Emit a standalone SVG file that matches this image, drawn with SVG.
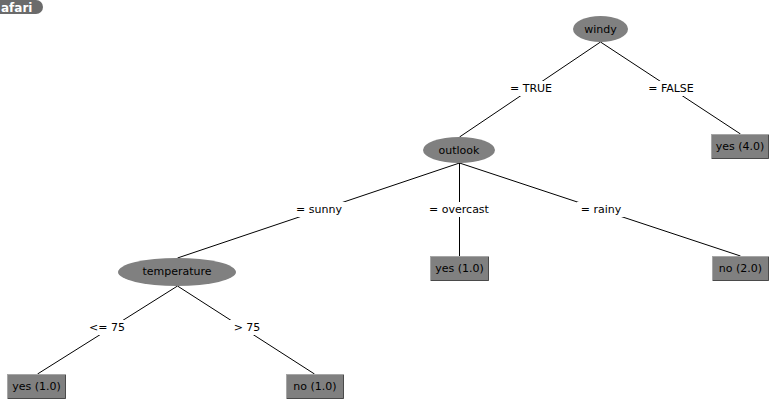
<svg xmlns="http://www.w3.org/2000/svg" width="781" height="413" viewBox="0 0 781 413">
  <style>
    text { font-family: "DejaVu Sans", "Liberation Sans", sans-serif; font-size: 11px; fill: #000; }
    .lbl { text-anchor: middle; dominant-baseline: central; }
    .node ellipse { fill: #808080; stroke: none; }
    .leaf rect.face { fill: #808080; stroke: #a6a6a6; stroke-width: 1; }
    .leaf path.shade { fill: none; stroke: #4a4a4a; stroke-width: 1; }
    .edges line { stroke: #000; stroke-width: 1; }
    .edges rect { fill: #fff; }
  </style>
  <rect x="0" y="0" width="781" height="413" fill="#fff"/>

  <!-- browser tab badge -->
  <g id="badge">
    <path d="M0,0 H36 A7,7 0 0 1 36,14 H0 Z" fill="#6b6b6b"/>
    <text x="1" y="7.5" class="lbl" style="text-anchor:start;fill:#fff;font-weight:bold;font-size:12px">afari</text>
  </g>

  <!-- connectors with their labels -->
  <g id="edges" class="edges">
    <line x1="600.5" y1="42" x2="459.5" y2="137"/>
    <line x1="600.5" y1="42" x2="740.5" y2="134"/>
    <line x1="459.5" y1="163" x2="177.5" y2="258"/>
    <line x1="459.5" y1="163" x2="459.5" y2="256"/>
    <line x1="459.5" y1="163" x2="740.5" y2="256"/>
    <line x1="177.5" y1="286" x2="37.5" y2="374"/>
    <line x1="177.5" y1="286" x2="314.5" y2="374"/>

    <rect x="506" y="81" width="51" height="15"/>
    <text x="531" y="88" class="lbl">= TRUE</text>
    <rect x="646" y="81" width="50" height="15"/>
    <text x="671" y="88" class="lbl">= FALSE</text>
    <rect x="292" y="202" width="54" height="15"/>
    <text x="319" y="209" class="lbl">= sunny</text>
    <rect x="426" y="202" width="66" height="15"/>
    <text x="459" y="209" class="lbl">= overcast</text>
    <rect x="577" y="202" width="48" height="15"/>
    <text x="601" y="209" class="lbl">= rainy</text>
    <rect x="86" y="320" width="42" height="15"/>
    <text x="107" y="327" class="lbl">&lt;= 75</text>
    <rect x="230" y="320" width="34" height="15"/>
    <text x="247" y="327" class="lbl">&gt; 75</text>
  </g>

  <!-- split nodes -->
  <g id="windy" class="node">
    <ellipse cx="600.5" cy="29" rx="27.5" ry="13"/>
    <text x="600.5" y="29" class="lbl">windy</text>
  </g>
  <g id="outlook" class="node">
    <ellipse cx="459" cy="150" rx="36" ry="13"/>
    <text x="459" y="150" class="lbl">outlook</text>
  </g>
  <g id="temperature" class="node">
    <ellipse cx="177" cy="272" rx="59" ry="14"/>
    <text x="177" y="271" class="lbl">temperature</text>
  </g>

  <!-- leaves -->
  <g id="leaf-yes-4" class="leaf">
    <rect class="face" x="711.5" y="134.5" width="57" height="24"/>
    <path class="shade" d="M712,158.5 H768.5 V135"/>
    <text x="740" y="146" class="lbl">yes (4.0)</text>
  </g>
  <g id="leaf-yes-overcast" class="leaf">
    <rect class="face" x="430.5" y="256.5" width="58" height="24"/>
    <path class="shade" d="M431,280.5 H488.5 V257"/>
    <text x="459.5" y="268" class="lbl">yes (1.0)</text>
  </g>
  <g id="leaf-no-2" class="leaf">
    <rect class="face" x="712.5" y="256.5" width="56" height="24"/>
    <path class="shade" d="M713,280.5 H768.5 V257"/>
    <text x="740.5" y="268" class="lbl">no (2.0)</text>
  </g>
  <g id="leaf-yes-cool" class="leaf">
    <rect class="face" x="7.5" y="374.5" width="58" height="24"/>
    <path class="shade" d="M8,398.5 H65.5 V375"/>
    <text x="36.5" y="386" class="lbl">yes (1.0)</text>
  </g>
  <g id="leaf-no-hot" class="leaf">
    <rect class="face" x="286.5" y="374.5" width="57" height="24"/>
    <path class="shade" d="M287,398.5 H343.5 V375"/>
    <text x="315" y="386" class="lbl">no (1.0)</text>
  </g>
</svg>
